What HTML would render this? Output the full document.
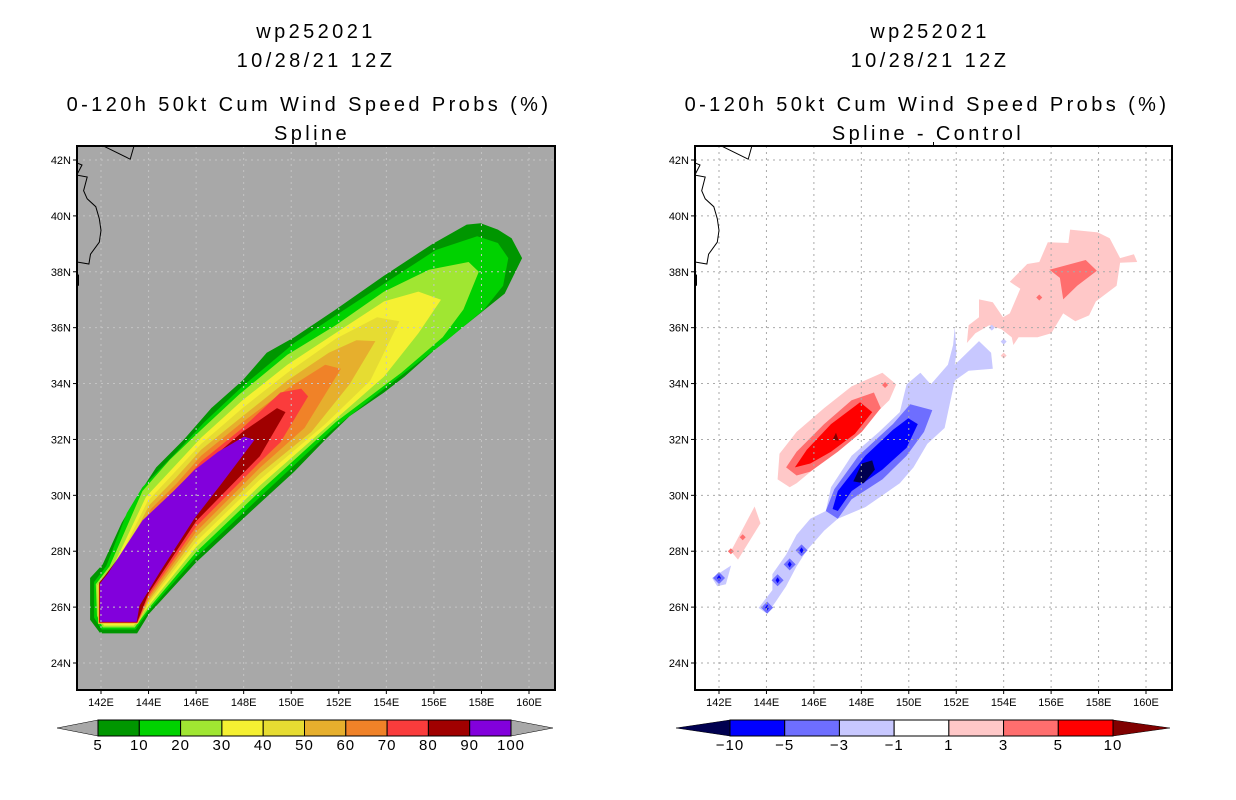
<!DOCTYPE html>
<html><head><meta charset="utf-8">
<style>
html,body{margin:0;padding:0;background:#fff;}
svg{display:block;font-family:"Liberation Sans",sans-serif;}
.t{font-size:20px;text-anchor:middle;fill:#000;letter-spacing:3.4px;}
.tk{font-size:11px;fill:#000;}
.cb{font-size:15px;text-anchor:middle;fill:#000;letter-spacing:1px;}
</style></head>
<body>
<svg id="chart" width="1236" height="800" viewBox="0 0 1236 800">
<g>
<text class="t" x="316" y="38">wp252021</text>
<text class="t" x="316" y="67">10/28/21 12Z</text>
<text class="t" x="309" y="111">0-120h 50kt Cum Wind Speed Probs (%)</text>
<text class="t" x="312" y="140">Spline</text>
</g>
<g>
<text class="t" x="930" y="38">wp252021</text>
<text class="t" x="930" y="67">10/28/21 12Z</text>
<text class="t" x="927" y="111">0-120h 50kt Cum Wind Speed Probs (%)</text>
<text class="t" x="928" y="140">Spline - Control</text>
</g>
<g id="left"></g>
<g id="right"></g>
<g id="lcb"></g>
<g id="rcb"></g>
</svg>
<script>
const NS="http://www.w3.org/2000/svg";
const lonTicks=[142,144,146,148,150,152,154,156,158,160];
const latTicks=[24,26,28,30,32,34,36,38,40,42];
const probLevels=[5,10,20,30,40,50,60,70,80,90,100];
const probColors=["#009600","#00d200","#a0e632","#f5f032","#e6dc32","#e6af2d","#f08228","#fa3c3c","#a00000","#8200dc"];
const diffLevels=[-10,-5,-3,-1,1,3,5,10];
const diffColors=["#0000ff","#6e6eff","#c8c8ff","#ffffff","#ffc8c8","#ff6e6e","#ff0000"];
const p5=[[141.54,27.04],[141.54,25.55],[141.97,25.06],[143.52,25.06],[144.03,25.77],[146.0,27.6],[148.68,29.72],[150.13,30.85],[151.43,31.99],[152.45,32.83],[153.9,33.68],[154.77,34.25],[156.08,35.24],[157.53,36.23],[158.98,37.22],[159.71,38.49],[159.27,39.2],[158.69,39.51],[157.97,39.74],[157.38,39.69],[155.93,38.99],[153.9,37.86],[151.87,36.65],[150.13,35.66],[148.97,35.1],[147.95,34.11],[146.64,33.12],[145.48,31.99],[144.32,31.0],[143.45,29.86],[142.87,29.02],[142.07,27.53]];
const p10=[[141.71,26.9],[141.71,25.62],[142.03,25.2],[143.45,25.2],[144.0,25.86],[146.0,27.79],[148.68,29.93],[151.72,32.34],[154.34,34.1],[156.51,35.52],[158.11,36.65],[158.91,37.5],[159.13,38.49],[158.69,39.03],[157.82,39.27],[156.08,38.78],[153.9,37.57],[151.87,36.44],[150.13,35.45],[147.95,33.9],[146.35,32.62],[145.19,31.56],[143.74,30.29],[143.09,29.37],[142.22,27.46]];
const p20=[[141.78,26.82],[141.83,25.69],[142.07,25.27],[143.42,25.27],[144.0,25.95],[146.0,27.97],[148.68,30.14],[151.87,32.62],[154.63,34.39],[156.37,35.66],[157.24,36.65],[157.89,38.0],[157.46,38.35],[155.79,38.07],[153.9,37.29],[151.87,36.09],[149.84,35.03],[147.81,33.61],[146.21,32.34],[144.9,31.28],[143.74,30.15],[142.36,27.46]];
const p30=[[141.85,26.78],[141.88,25.76],[142.12,25.34],[143.38,25.34],[144.0,26.04],[146.0,28.15],[148.68,30.35],[151.72,32.62],[153.9,34.25],[155.35,35.8],[156.3,37.0],[155.35,37.29],[153.9,36.94],[151.87,35.81],[149.84,34.67],[147.95,33.4],[146.21,32.06],[145.05,31.0],[143.89,29.94],[142.51,27.46]];
const p40=[[141.88,26.8],[141.88,25.4],[143.55,25.4],[144.0,26.13],[146.0,28.34],[148.68,30.56],[151.43,32.55],[153.32,34.1],[154.55,36.23],[153.61,36.37],[151.87,35.6],[149.84,34.39],[147.95,33.12],[146.21,31.84],[145.05,30.78],[143.96,29.79],[142.58,27.43]];
const p50=[[141.9,26.82],[141.9,25.42],[143.54,25.42],[144.0,26.22],[146.0,28.52],[148.68,30.77],[150.85,32.27],[152.45,33.97],[153.54,35.52],[152.74,35.55],[151.58,35.1],[149.84,34.11],[147.95,32.83],[146.21,31.63],[145.12,30.6],[144.03,29.65],[142.65,27.39]];
const p60=[[141.91,26.84],[141.91,25.43],[143.53,25.43],[144.0,26.31],[146.0,28.7],[148.68,30.98],[150.56,32.41],[152.09,34.53],[151.43,34.67],[149.84,33.82],[147.95,32.62],[146.21,31.42],[145.19,30.43],[144.1,29.51],[142.73,27.39]];
const p70=[[141.92,26.86],[141.92,25.44],[143.53,25.44],[144.0,26.4],[146.0,28.88],[148.68,31.19],[149.55,31.9],[150.71,33.54],[150.42,33.82],[149.55,33.68],[147.95,32.41],[146.21,31.21],[145.19,30.22],[144.18,29.37],[142.8,27.39]];
const p80=[[141.93,26.88],[141.93,25.45],[143.52,25.45],[144.0,26.49],[146.0,29.07],[148.68,31.4],[149.76,32.98],[149.4,33.12],[147.95,32.27],[146.21,31.0],[145.19,30.08],[144.03,29.23],[142.15,27.11]];
const p90=[[141.96,26.85],[141.96,25.47],[143.5,25.47],[143.62,26.05],[144.47,27.25],[145.92,29.16],[147.08,30.43],[148.46,31.99],[148.02,32.1],[146.93,31.56],[145.92,30.9],[145.05,30.15],[143.74,29.1],[142.29,27.2]];
const probPolys=[p5,p10,p20,p30,p40,p50,p60,p70,p80,p90];
const dPinkNE=[[152.45,35.45],[152.52,36.09],[152.96,36.37],[152.96,37.01],[153.54,36.91],[153.97,36.37],[154.26,36.51],[154.7,37.39],[154.26,37.64],[154.99,38.28],[155.5,38.35],[155.86,39.06],[156.73,39.03],[156.8,39.51],[157.97,39.41],[158.47,39.2],[158.91,38.49],[159.49,38.63],[159.63,38.35],[158.91,38.32],[158.76,37.5],[157.89,36.94],[157.6,36.44],[157.02,36.23],[156.51,36.51],[156.01,35.8],[155.43,35.66],[154.63,35.66],[154.41,35.38],[154.34,35.66],[153.9,35.95],[153.39,36.09],[152.81,35.8]];
const dSalmonNE=[[155.93,38.07],[157.46,38.42],[157.93,38.04],[157.1,37.5],[156.51,37.01],[156.37,37.78]];
const dPinkW=[[144.47,30.57],[144.55,31.49],[145.27,32.27],[146.43,33.12],[147.59,33.9],[148.89,34.39],[149.47,33.97],[149.18,33.4],[148.31,32.69],[147.3,31.84],[146.28,31.14],[145.27,30.43],[144.98,30.29]];
const dSalmonW=[[144.83,31.0],[145.27,31.56],[146.43,32.55],[147.59,33.4],[148.53,33.68],[148.82,33.12],[148.02,32.27],[147.01,31.56],[145.85,30.85],[145.27,30.71]];
const dRedW=[[145.2,31.0],[145.7,31.63],[146.72,32.55],[147.95,33.33],[148.46,32.98],[147.73,32.2],[146.72,31.56],[145.85,31.14]];
const dDarkRed=[[146.79,31.99],[146.93,32.24],[147.04,31.96]];
const dPinkSW=[[142.5,28.0],[143.5,29.6],[143.75,29.0],[142.8,27.7]];
const dLightBlue=[[143.67,25.97],[144.25,26.61],[144.25,27.18],[144.83,27.88],[145.27,28.59],[145.85,29.16],[146.5,29.44],[146.72,30.29],[147.59,31.42],[148.75,32.27],[149.62,32.98],[149.91,33.97],[150.49,34.39],[150.93,33.97],[151.65,34.67],[151.87,35.38],[151.94,36.02],[152.01,35.1],[151.94,34.67],[152.96,35.52],[153.47,35.1],[153.54,34.53],[152.52,34.46],[151.94,34.11],[151.51,32.41],[150.78,31.84],[150.2,31.0],[149.62,30.43],[148.17,29.58],[147.01,29.16],[146.43,28.73],[145.7,28.03],[145.27,27.46],[144.83,26.75],[144.39,26.19],[144.03,25.76]];
const dLightBlueSW=[[141.71,27.04],[142.07,27.25],[142.51,27.49],[142.29,26.82],[141.93,26.75]];
const dMidBlue=[[146.5,29.44],[146.86,30.22],[147.88,31.42],[149.33,32.55],[150.06,33.26],[150.99,33.05],[150.64,32.27],[149.91,31.42],[148.89,30.57],[147.59,29.86],[147.01,29.16]];
const dBlue=[[146.79,29.51],[147.01,30.15],[148.17,31.42],[149.33,32.34],[149.98,32.76],[150.38,32.55],[149.91,31.7],[148.89,30.92],[147.59,30.15],[147.01,29.44]];
const dNavy=[[147.66,30.5],[148.02,31.14],[148.46,31.25],[148.57,30.92],[148.1,30.43]];
const diffPolys=[[4,dPinkNE],[5,dSalmonNE],[4,dPinkW],[5,dSalmonW],[6,dRedW],[7,dDarkRed],[4,dPinkSW],[2,dLightBlue],[2,dLightBlueSW],[1,dMidBlue],[0,dBlue],[-1,dNavy]];
const spotLon=[145.48,144.98,144.47,144.03,142.0,155.5,142.5,143.0,149.0,153.5,154.0,154.0];
const spotLat=[28.03,27.53,26.96,25.98,27.04,37.08,28.0,28.5,33.95,36.0,35.5,35.0];
const spotCol=[1,1,1,1,1,5,5,5,5,2,2,4];
const coast=[[142.15,42.48],[143.23,42.03],[143.38,42.48]];
const coast2=[[140.98,41.9],[141.2,41.82],[140.98,41.46],[141.42,41.39],[141.27,40.9],[141.42,40.61],[141.78,40.33],[141.93,39.9],[142.0,39.48],[141.93,39.06],[141.56,38.63],[141.49,38.28],[140.98,38.35]];

function mk(tag,attrs,parent){const e=document.createElementNS(NS,tag);for(const k in attrs)e.setAttribute(k,attrs[k]);parent.appendChild(e);return e;}
function panel(gid,x0,x1,y0,y1,bg,gridCol){
  const g=document.getElementById(gid);
  const X=lon=>x0+24+(lon-142)*(x1-x0-50)/18;
  return {g,X,Y:lat=>160+(42-lat)*(503/18),x0,x1,y0,y1,bg,gridCol};
}
function pts(P,arr){return arr.map(p=>P.X(p[0]).toFixed(1)+","+P.Y(p[1]).toFixed(1)).join(" ");}
function frame(P,name){
  const g=P.g;
  const cp=mk("clipPath",{id:name+"clip"},g);mk("rect",{x:P.x0,y:P.y0,width:P.x1-P.x0,height:P.y1-P.y0},cp);
  const bg=mk("rect",{x:P.x0,y:P.y0,width:P.x1-P.x0,height:P.y1-P.y0,fill:P.bg},g);
  
  
  return mk("g",{"clip-path":"url(#"+name+"clip)"},g);
}
function axes(P,inner){
  const g=P.g;
  const gr=mk("g",{},inner);
  
  
  lonTicks.forEach(l=>{mk("line",{x1:P.X(l),x2:P.X(l),y1:P.y0,y2:P.y1,stroke:P.gridCol,"stroke-dasharray":"2,4","stroke-width":1},gr);});
  latTicks.forEach(l=>{mk("line",{x1:P.x0,x2:P.x1,y1:P.Y(l),y2:P.Y(l),stroke:P.gridCol,"stroke-dasharray":"2,4","stroke-width":1},gr);});
  const cl=mk("polyline",{points:pts(P,coast),fill:"none",stroke:"#000","stroke-width":1},inner);
  
  
  mk("polyline",{points:pts(P,coast2),fill:"none",stroke:"#000","stroke-width":1},inner);
  mk("line",{x1:P.x0+1,x2:P.x0+1,y1:P.Y(37.9),y2:P.Y(37.5),stroke:"#000","stroke-width":2},inner);
  const fr=mk("rect",{x:P.x0,y:P.y0,width:P.x1-P.x0,height:P.y1-P.y0,fill:"none",stroke:"#000","stroke-width":2},g);
  
  
  mk("line",{x1:(P.x0+P.x1)/2,x2:(P.x0+P.x1)/2,y1:P.y0-4,y2:P.y0,stroke:"#000","stroke-width":1},g);
  lonTicks.forEach(l=>{
    mk("line",{x1:P.X(l),x2:P.X(l),y1:P.y1,y2:P.y1+4,stroke:"#000"},g);
    const t=mk("text",{x:P.X(l),y:P.y1+16,"text-anchor":"middle",class:"tk"},g);t.textContent=l+"E";
    
    
  });
  latTicks.forEach(l=>{
    mk("line",{x1:P.x0-4,x2:P.x0,y1:P.Y(l),y2:P.Y(l),stroke:"#000"},g);
    const t=mk("text",{x:P.x0-6,y:P.Y(l)+4,"text-anchor":"end",class:"tk"},g);t.textContent=l+"N";
    
    
  });
}
const L=panel("left",77,555,146,690,"#a8a8a8","#c4c4c4");
const Li=frame(L,"L");
probPolys.forEach((poly,i)=>{
  const p=mk("polygon",{points:pts(L,poly),fill:probColors[i]},Li);
  
  
});
axes(L,Li);
const R=panel("right",695,1172,146,690,"#ffffff","#aaaaaa");
const Ri=frame(R,"R");
diffPolys.forEach(([ci,poly])=>{
  const col=ci<0?"#000050":(ci>=7?"#800000":diffColors[ci]);
  const p=mk("polygon",{points:pts(R,poly),fill:col},Ri);
  
  
});
spotLon.forEach((lo,i)=>{
  const cx=R.X(lo),cy=R.Y(spotLat[i]),r=(spotCol[i]===1?6:3);
  const base=mk("polygon",{points:`${cx-r},${cy} ${cx},${cy-r} ${cx+r},${cy} ${cx},${cy+r}`,fill:diffColors[spotCol[i]]},Ri);
  
  
  if(spotCol[i]===1){mk("polygon",{points:`${cx-2},${cy} ${cx},${cy-3} ${cx+2},${cy} ${cx},${cy+3}`,fill:"#0000ff"},Ri);}
});
axes(R,Ri);
function colorbar(gid,x0,x1,y0,y1,cols,labels,lcol,rcol,tipL,tipR){
  const g=document.getElementById(gid);
  const n=cols.length,w=(x1-x0)/n,ym=(y0+y1)/2;
  const lt=mk("polygon",{points:`${tipL},${ym} ${x0},${y0} ${x0},${y1}`,fill:lcol,stroke:"#000","stroke-width":0.5},g);
  
  
  const rt=mk("polygon",{points:`${tipR},${ym} ${x1},${y0} ${x1},${y1}`,fill:rcol,stroke:"#000","stroke-width":0.5},g);
  
  
  cols.forEach((c,i)=>{
    const r=mk("rect",{x:x0+i*w,y:y0,width:w,height:y1-y0,fill:c,stroke:"#000","stroke-width":1},g);
    
    
  });
  labels.forEach((lb,i)=>{
    const t=mk("text",{x:x0+i*w,y:y1+14,class:"cb"},g);t.textContent=String(lb).replace("-","\u2212");
    
    
  });
}
colorbar("lcb",98,511,720,736,probColors,probLevels,"#a8a8a8","#a8a8a8",57,553);
colorbar("rcb",730,1113,720,736,diffColors,diffLevels,"#000050","#800000",676,1170);
</script>
</body></html>
